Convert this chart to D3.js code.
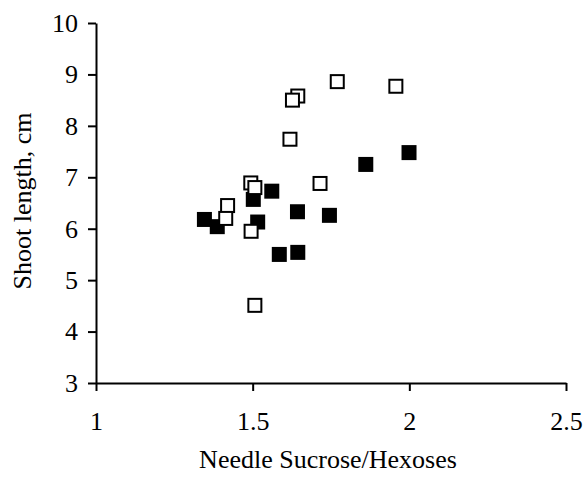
<!DOCTYPE html>
<html>
<head>
<meta charset="utf-8">
<script src="https://cdn.jsdelivr.net/npm/d3@7"></script>
<style>
  body { margin: 0; background: #fff; }
  text { font-family: "Liberation Serif", "Times New Roman", serif; }
</style>
</head>
<body>
<div id="chart-area"></div>
<script>
// open squares
const openX = [1.770, 1.957, 1.644, 1.627, 1.619, 1.715, 1.494, 1.507, 1.420, 1.414, 1.495, 1.507];
const openY = [8.86, 8.77, 8.58, 8.50, 7.74, 6.88, 6.89, 6.80, 6.45, 6.20, 5.95, 4.51];
// filled squares
const filledX = [1.999, 1.861, 1.561, 1.502, 1.643, 1.745, 1.346, 1.387, 1.516, 1.585, 1.644];
const filledY = [7.48, 7.25, 6.73, 6.57, 6.33, 6.26, 6.18, 6.04, 6.13, 5.50, 5.54];

const xTicks = [1, 1.5, 2, 2.5];
const yTicks = [3, 4, 5, 6, 7, 8, 9, 10];

const chartWidth = 583;
const chartHeight = 477;
const margin = {top: 23, right: 17, bottom: 94, left: 96};
const width = chartWidth - margin.left - margin.right;
const height = chartHeight - margin.top - margin.bottom;

const svg = d3.select("#chart-area").append("svg")
  .attr("width", chartWidth)
  .attr("height", chartHeight);

const g = svg.append("g")
  .attr("transform", `translate(${margin.left}, ${margin.top})`);

const x = d3.scaleLinear().domain([1, 2.5]).range([0, width]);
const y = d3.scaleLinear().domain([3, 10]).range([height, 0]);

// axes
const xAxis = g.append("g")
  .attr("transform", `translate(0, ${height})`)
  .call(d3.axisBottom(x).tickValues(xTicks).tickFormat(d3.format("")).tickSizeInner(8).tickSizeOuter(0).tickPadding(21));

const yAxis = g.append("g")
  .call(d3.axisLeft(y).tickValues(yTicks).tickFormat(d3.format("d")).tickSizeInner(8).tickSizeOuter(0).tickPadding(10));

[xAxis, yAxis].forEach(a => {
  a.select(".domain").attr("stroke", "#000").attr("stroke-width", 2);
  a.selectAll(".tick line").attr("stroke", "#000").attr("stroke-width", 2);
  a.selectAll(".tick text")
    .attr("font-family", "'Liberation Serif', serif")
    .attr("font-size", "26px")
    .attr("fill", "#000");
});

// axis titles
g.append("text")
  .attr("x", width / 2 - 3)
  .attr("y", height + 85)
  .attr("text-anchor", "middle")
  .attr("font-size", "26px")
  .text("Needle Sucrose/Hexoses");

g.append("text")
  .attr("transform", "rotate(-90)")
  .attr("x", -(height / 2) + 2)
  .attr("y", -65)
  .attr("text-anchor", "middle")
  .attr("font-size", "26px")
  .text("Shoot length, cm");

// filled squares first, open squares on top
const filled = filledX.map((v, i) => ({x: v, y: filledY[i]}));
const open = openX.map((v, i) => ({x: v, y: openY[i]}));

const fs = 15;
g.selectAll("rect.filled").data(filled).enter().append("rect")
  .attr("class", "filled")
  .attr("x", d => x(d.x) - fs / 2)
  .attr("y", d => y(d.y) - fs / 2)
  .attr("width", fs)
  .attr("height", fs)
  .attr("fill", "#000");

const os = 13;
g.selectAll("rect.open").data(open).enter().append("rect")
  .attr("class", "open")
  .attr("x", d => x(d.x) - os / 2)
  .attr("y", d => y(d.y) - os / 2)
  .attr("width", os)
  .attr("height", os)
  .attr("fill", "#fff")
  .attr("stroke", "#000")
  .attr("stroke-width", 2);
</script>
</body>
</html>
